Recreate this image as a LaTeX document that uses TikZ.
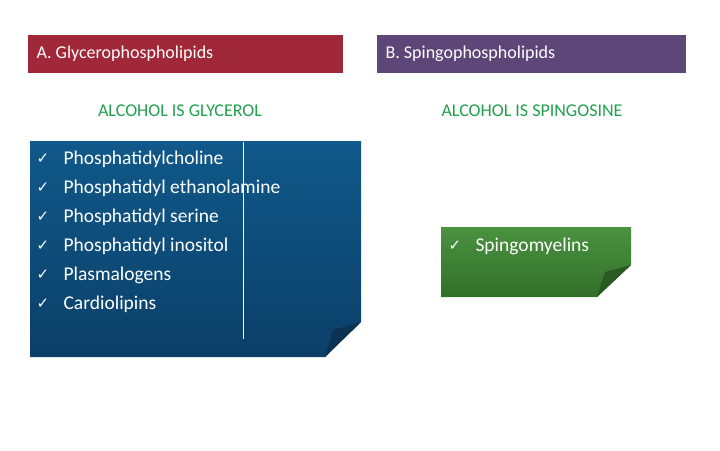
\documentclass[tikz,border=0pt]{standalone}
\usepackage{fontspec}
\setmainfont{Carlito}
\newfontfamily\symf{DejaVu Sans}
\definecolor{hdrA}{HTML}{A02838}
\definecolor{hdrB}{HTML}{5F4678}
\definecolor{grn}{HTML}{20A04C}
\definecolor{blueT}{HTML}{10598A}
\definecolor{blueB}{HTML}{0B3F68}
\definecolor{gT}{HTML}{4A9240}
\definecolor{gB}{HTML}{32702A}
\tikzset{hdr/.style={anchor=west,text=white,font=\fontsize{18}{20}\selectfont},
 sub/.style={text=grn,font=\fontsize{18}{20}\selectfont},
 item/.style={anchor=west,text=white,font=\fontsize{19.5}{22}\selectfont},
 chk/.style={anchor=west,text=white,font=\symf\fontsize{15}{18}\selectfont}}
\begin{document}
\begin{tikzpicture}[x=1pt,y=-1pt]
\useasboundingbox (0,0) rectangle (720,450);
\fill[hdrA] (28,35) rectangle (343,73);
\node[hdr] (ha) at (33,54) {A. Glycerophospholipids};
\fill[hdrB] (377,35) rectangle (686,73);
\node[hdr] (hb) at (382,54) {B. Spingophospholipids};
\node[sub] (sa) at (180,111) {ALCOHOL IS GLYCEROL};
\node[sub] (sb) at (532,111) {ALCOHOL IS SPINGOSINE};
% blue box
\shade[top color=blueT,bottom color=blueB] (30,141) -- (361,141) -- (361,322) -- (325,357) -- (30,357) -- cycle;
\fill[blueB!80!black] (361,322) -- (333,330) -- (325,357) -- cycle;
\draw[white,line width=0.8pt] (243,142) -- (243,339);
\foreach \t [count=\i] in {Phosphatidylcholine,Phosphatidyl ethanolamine,Phosphatidyl serine,Phosphatidyl inositol,Plasmalogens,Cardiolipins}{
  \node[chk] (c\i) at (33,130+29*\i) {✓};
  \node[item] (t\i) at (60,130+29*\i) {\t};
}
% green box
\shade[top color=gT,bottom color=gB] (441,227) -- (631,227) -- (631,265) -- (597,297) -- (441,297) -- cycle;
\fill[gB!80!black] (631,265) -- (605,272) -- (597,297) -- cycle;
\node[chk] (cg) at (445,246) {✓};
\node[item] (tg) at (472,246) {Spingomyelins};
\end{tikzpicture}
\end{document}
